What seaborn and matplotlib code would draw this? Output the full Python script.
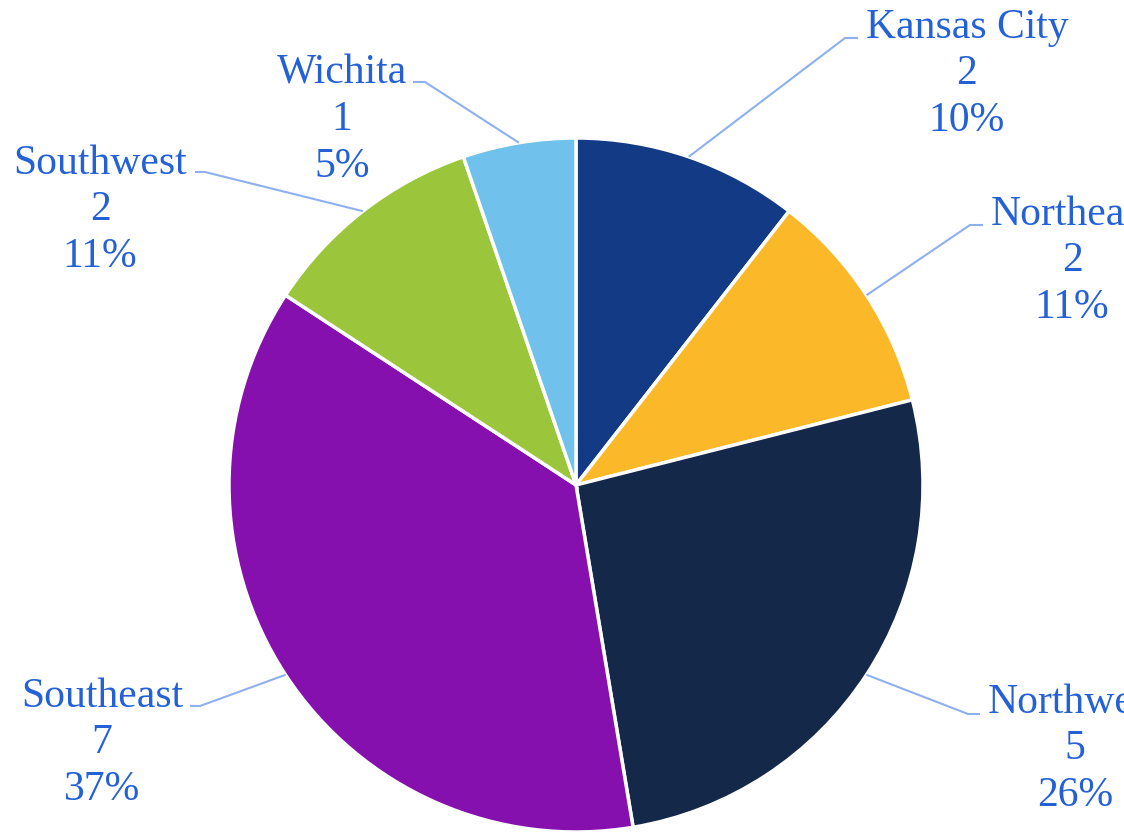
import numpy as np
import matplotlib
matplotlib.use("Agg")
import matplotlib.pyplot as plt
import seaborn as sns

regions = ["Kansas City", "Northeast", "Northwest", "Southeast", "Southwest", "Wichita"]
counts = [2, 2, 5, 7, 2, 1]
pct_labels = ["10%", "11%", "26%", "37%", "11%", "5%"]
colors = ["#133A85", "#FBB829", "#14284A", "#8510AE", "#9BC63B", "#70C1EC"]

# label text centres (image pixels, y down) and elbow points of the leader lines
label_xy = [(967, 74), (1072, 261), (1075, 749), (102, 743), (100, 210), (342, 120)]
elbow_xy = [(845, 38), (970, 225), (968, 714), (200, 706), (205, 172), (425, 82)]
tail_xy = [(858, 38), (983, 225), (980, 714), (190, 706), (195, 172), (413, 82)]

sns.set_theme(style="white")
plt.rcParams["font.family"] = ["Liberation Serif", "DejaVu Serif"]

W, H = 1124, 834
fig = plt.figure(figsize=(W / 100, H / 100), dpi=100)
ax = fig.add_axes([0, 0, 1, 1])

cx, cy, r = 576, H - 485, 347
wedges, _ = ax.pie(counts, colors=colors, startangle=90, counterclock=False,
                   center=(cx, cy), radius=r, frame=True,
                   wedgeprops=dict(edgecolor="white", linewidth=2.5))
ax.set_xlim(0, W)
ax.set_ylim(0, H)
ax.set_aspect("equal")
ax.axis("off")

text_color = "#2461D6"
line_color = "#8FB0EE"
for w, name, n, p, lxy, exy, txy in zip(wedges, regions, counts, pct_labels,
                                        label_xy, elbow_xy, tail_xy):
    mid = np.deg2rad((w.theta1 + w.theta2) / 2)
    sx, sy = cx + r * np.cos(mid), cy + r * np.sin(mid)
    ax.plot([sx, exy[0], txy[0]], [sy, H - exy[1], H - txy[1]],
            color=line_color, lw=1.5, solid_capstyle="butt")
    ax.text(lxy[0], H - lxy[1], f"{name}\n{n}\n{p}", ha="center", va="center",
            fontsize=30, color=text_color, linespacing=1.27)

fig.savefig("out.png", dpi=100)
